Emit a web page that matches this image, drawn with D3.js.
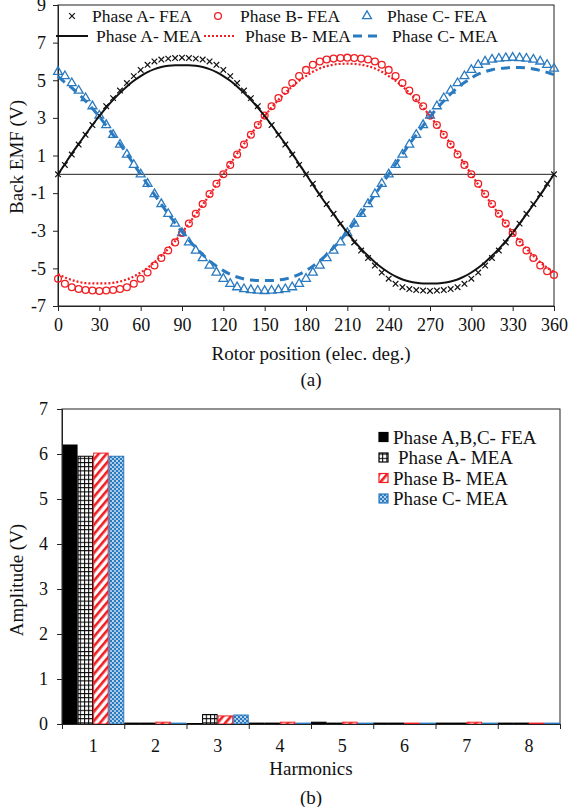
<!DOCTYPE html>
<html>
<head>
<meta charset="utf-8">
<script src="https://cdn.jsdelivr.net/npm/d3@7"></script>
<style>
  body { margin: 0; background: #fff; }
  svg text { font-family: "Liberation Serif", "Times New Roman", serif !important; fill: #111; }
</style>
</head>
<body>
<div id="chart"></div>
<script>
// back EMF waveforms, sampled every 5 electrical degrees
var angles = [0,5,10,15,20,25,30,35,40,45,50,55,60,65,70,75,80,85,90,95,100,105,110,115,120,125,130,135,140,145,150,155,160,165,170,175,180,
  185,190,195,200,205,210,215,220,225,230,235,240,245,250,255,260,265,270,275,280,285,290,295,300,305,310,315,320,325,330,335,340,345,350,355,360];

var feaA = [0,0.5,1.05,1.58,2.1,2.62,3.12,3.62,4.05,4.45,4.85,5.22,5.55,5.82,6.0,6.1,6.15,6.18,6.2,6.18,6.15,6.1,6.0,5.82,5.55,5.22,4.85,4.45,4.05,3.62,3.12,2.62,2.1,1.58,1.05,0.5,0,
  -0.5,-1.05,-1.58,-2.1,-2.62,-3.12,-3.62,-4.05,-4.45,-4.85,-5.22,-5.55,-5.82,-6.0,-6.1,-6.15,-6.18,-6.2,-6.18,-6.15,-6.1,-6.0,-5.82,-5.55,-5.22,-4.85,-4.45,-4.05,-3.62,-3.12,-2.62,-2.1,-1.58,-1.05,-0.5,0];
var feaB = [-5.55,-5.82,-6.0,-6.1,-6.15,-6.18,-6.2,-6.18,-6.15,-6.1,-6.0,-5.82,-5.55,-5.22,-4.85,-4.45,-4.05,-3.62,-3.12,-2.62,-2.1,-1.58,-1.05,-0.5,0,
  0.5,1.05,1.58,2.1,2.62,3.12,3.62,4.05,4.45,4.85,5.22,5.55,5.82,6.0,6.1,6.15,6.18,6.2,6.18,6.15,6.1,6.0,5.82,5.55,5.22,4.85,4.45,4.05,3.62,3.12,2.62,2.1,1.58,1.05,0.5,0,
  -0.5,-1.05,-1.58,-2.1,-2.62,-3.12,-3.62,-4.05,-4.45,-4.85,-5.15,-5.35];
var feaC = [5.45,5.22,4.85,4.45,4.05,3.62,3.12,2.62,2.1,1.58,1.05,0.5,0,-0.5,-1.05,-1.58,-2.1,-2.62,-3.12,-3.62,-4.05,-4.45,-4.85,-5.22,-5.55,-5.82,-6.0,-6.1,-6.15,-6.18,-6.2,-6.18,-6.15,-6.1,-6.0,-5.82,-5.55,-5.22,-4.85,-4.45,-4.05,-3.62,-3.12,-2.62,-2.1,-1.58,-1.05,-0.5,0,
  0.5,1.05,1.58,2.1,2.62,3.12,3.62,4.05,4.45,4.85,5.22,5.55,5.82,6.0,6.1,6.15,6.18,6.2,6.18,6.15,6.1,6.0,5.82,5.62];

var meaA = [0,0.55,1.1,1.62,2.12,2.62,3.1,3.55,3.96,4.33,4.67,4.97,5.22,5.43,5.59,5.7,5.77,5.8,5.8,5.8,5.77,5.7,5.59,5.43,5.22,4.97,4.67,4.33,3.96,3.55,3.1,2.62,2.12,1.62,1.1,0.55,0,
  -0.55,-1.1,-1.62,-2.12,-2.62,-3.1,-3.55,-3.96,-4.33,-4.67,-4.97,-5.22,-5.43,-5.59,-5.7,-5.77,-5.8,-5.8,-5.8,-5.77,-5.7,-5.59,-5.43,-5.22,-4.97,-4.67,-4.33,-3.96,-3.55,-3.1,-2.62,-2.12,-1.62,-1.1,-0.55,0];
var meaB = [-5.3,-5.48,-5.62,-5.72,-5.78,-5.8,-5.8,-5.8,-5.77,-5.7,-5.59,-5.43,-5.22,-4.97,-4.67,-4.33,-3.96,-3.55,-3.1,-2.62,-2.12,-1.62,-1.1,-0.55,0,
  0.55,1.1,1.62,2.12,2.62,3.1,3.55,3.96,4.33,4.67,4.97,5.22,5.45,5.63,5.75,5.83,5.87,5.88,5.87,5.83,5.75,5.63,5.45,5.22,4.97,4.67,4.33,3.96,3.55,3.1,2.62,2.12,1.62,1.1,0.55,0,
  -0.55,-1.1,-1.62,-2.12,-2.62,-3.1,-3.55,-3.96,-4.33,-4.67,-4.97,-5.2];
var meaC = [5.2,4.88,4.6,4.27,3.9,3.5,3.06,2.59,2.1,1.6,1.08,0.54,0,-0.54,-1.08,-1.6,-2.1,-2.59,-3.06,-3.5,-3.9,-4.27,-4.6,-4.88,-5.12,-5.32,-5.46,-5.56,-5.62,-5.65,-5.65,-5.65,-5.62,-5.56,-5.46,-5.32,-5.12,-4.88,-4.6,-4.27,-3.9,-3.5,-3.06,-2.59,-2.1,-1.6,-1.08,-0.54,0,
  0.54,1.08,1.6,2.1,2.59,3.06,3.5,3.9,4.27,4.6,4.88,5.12,5.32,5.46,5.56,5.62,5.65,5.68,5.68,5.65,5.6,5.52,5.42,5.3];

var xTicksA = [0,30,60,90,120,150,180,210,240,270,300,330,360];
var yTicksA = [-7,-5,-3,-1,1,3,5,7,9];

// harmonic spectrum
var harmonics = [1,2,3,4,5,6,7,8];
var ampFEA  = [6.2,0.02,0.01,0.02,0.04,0.02,0.02,0.02];
var ampMEAA = [5.95,0.02,0.21,0.02,0.02,0.02,0.02,0.02];
var ampMEAB = [6.02,0.04,0.18,0.04,0.04,0.02,0.04,0.02];
var ampMEAC = [5.95,0.02,0.2,0.02,0.02,0.02,0.02,0.02];
var yTicksB = [0,1,2,3,4,5,6,7];

var W = 568, H = 807;
var RED = "#f01e23", BLUE = "#2a7ac0";
var FONT = "Liberation Serif, Times New Roman, serif";
var FS = 19;     // titles, bottom legend
var LS = 17.5;   // top legend
var TS = 18;     // tick labels

var svg = d3.select("#chart").append("svg")
    .attr("width", W)
    .attr("height", H)
    .attr("font-family", FONT);

var defs = svg.append("defs");

// grid pattern for Phase A MEA
var pGrid = defs.append("pattern").attr("id", "pGrid")
    .attr("patternUnits", "userSpaceOnUse").attr("width", 4.2).attr("height", 4.2);
pGrid.append("rect").attr("width", 4.2).attr("height", 4.2).attr("fill", "#fff");
pGrid.append("path").attr("d", "M0,0.5H4.2M0.5,0V4.2").attr("stroke", "#000").attr("stroke-width", 1);

// diagonal stripes for Phase B MEA
var pDiag = defs.append("pattern").attr("id", "pDiag")
    .attr("patternUnits", "userSpaceOnUse").attr("width", 6).attr("height", 6)
    .attr("patternTransform", "rotate(40)");
pDiag.append("rect").attr("width", 6).attr("height", 6).attr("fill", "#fff");
pDiag.append("rect").attr("width", 2.6).attr("height", 6).attr("fill", RED);

// dots for Phase C MEA
var pDots = defs.append("pattern").attr("id", "pDots")
    .attr("patternUnits", "userSpaceOnUse").attr("width", 4).attr("height", 4);
pDots.append("rect").attr("width", 4).attr("height", 4).attr("fill", BLUE);
pDots.append("circle").attr("cx", 1).attr("cy", 1).attr("r", 0.9).attr("fill", "#fff");
pDots.append("circle").attr("cx", 3).attr("cy", 3).attr("r", 0.9).attr("fill", "#dcecf8");

function styleAxis(ax) {
    ax.attr("font-family", FONT);
    ax.selectAll("text").attr("font-size", TS).attr("font-family", FONT).attr("fill", "#111");
    ax.selectAll("line, path").attr("stroke", "#222");
}

// ---------------- (a) back EMF ----------------
var xA = d3.scaleLinear().domain([0, 360]).range([58, 554]);
var yA = d3.scaleLinear().domain([-7, 9]).range([306, 5]);

var gA = svg.append("g");

gA.append("rect")
    .attr("x", xA(0)).attr("y", yA(9))
    .attr("width", xA(360) - xA(0)).attr("height", yA(-7) - yA(9))
    .attr("fill", "none").attr("stroke", "#222").attr("stroke-width", 1);

gA.append("line")
    .attr("x1", xA(0)).attr("x2", xA(360))
    .attr("y1", yA(0)).attr("y2", yA(0))
    .attr("stroke", "#222").attr("stroke-width", 1);

var xAxisA = gA.append("g")
    .attr("transform", "translate(0," + yA(-7) + ")")
    .call(d3.axisBottom(xA).tickValues(xTicksA).tickSize(5).tickPadding(7).tickFormat(function (d) { return String(d); }));
var yAxisA = gA.append("g")
    .attr("transform", "translate(" + xA(0) + ",0)")
    .call(d3.axisLeft(yA).tickValues(yTicksA).tickSize(5).tickPadding(7).tickFormat(function (d) { return String(d); }));
styleAxis(xAxisA);
styleAxis(yAxisA);

function wave(vals) {
    return angles.map(function (a, i) { return { a: a, v: vals[i] }; });
}

var line = d3.line()
    .x(function (d) { return xA(d.a); })
    .y(function (d) { return yA(d.v); })
    .curve(d3.curveMonotoneX);

// FEA markers
var crossPath = "M-2.8,-2.8L2.8,2.8M-2.8,2.8L2.8,-2.8";
var triPath = d3.symbol(d3.symbolTriangle, 34)();

gA.append("g").selectAll("path")
    .data(wave(feaA)).enter().append("path")
    .attr("d", crossPath)
    .attr("transform", function (d) { return "translate(" + xA(d.a) + "," + yA(d.v) + ")"; })
    .attr("stroke", "#111").attr("stroke-width", 1.2).attr("fill", "none");

gA.append("g").selectAll("circle")
    .data(wave(feaB)).enter().append("circle")
    .attr("cx", function (d) { return xA(d.a); })
    .attr("cy", function (d) { return yA(d.v); })
    .attr("r", 3.4)
    .attr("stroke", RED).attr("stroke-width", 1.3).attr("fill", "none");

gA.append("g").selectAll("path")
    .data(wave(feaC)).enter().append("path")
    .attr("d", triPath)
    .attr("transform", function (d) { return "translate(" + xA(d.a) + "," + yA(d.v) + ")"; })
    .attr("stroke", BLUE).attr("stroke-width", 1.3).attr("fill", "none");

// MEA lines
gA.append("path").datum(wave(meaA)).attr("d", line)
    .attr("fill", "none").attr("stroke", "#111").attr("stroke-width", 2);
gA.append("path").datum(wave(meaB)).attr("d", line)
    .attr("fill", "none").attr("stroke", RED).attr("stroke-width", 2.2).attr("stroke-dasharray", "2,2");
gA.append("path").datum(wave(meaC)).attr("d", line)
    .attr("fill", "none").attr("stroke", BLUE).attr("stroke-width", 3).attr("stroke-dasharray", "9,6");

// legend (a)
var legA = svg.append("g").attr("font-size", LS);
legA.append("path").attr("d", crossPath).attr("transform", "translate(72,16)")
    .attr("stroke", "#111").attr("stroke-width", 1.2);
legA.append("text").attr("x", 92).attr("y", 22).text("Phase A- FEA");
legA.append("circle").attr("cx", 218).attr("cy", 16).attr("r", 3.4)
    .attr("stroke", RED).attr("stroke-width", 1.3).attr("fill", "none");
legA.append("text").attr("x", 240).attr("y", 22).text("Phase B- FEA");
legA.append("path").attr("d", triPath).attr("transform", "translate(367,16)")
    .attr("stroke", BLUE).attr("stroke-width", 1.3).attr("fill", "none");
legA.append("text").attr("x", 387).attr("y", 22).text("Phase C- FEA");

legA.append("line").attr("x1", 56).attr("x2", 88).attr("y1", 36).attr("y2", 36)
    .attr("stroke", "#111").attr("stroke-width", 2);
legA.append("text").attr("x", 96).attr("y", 42).text("Phase A- MEA");
legA.append("line").attr("x1", 204).attr("x2", 234).attr("y1", 36).attr("y2", 36)
    .attr("stroke", RED).attr("stroke-width", 2.2).attr("stroke-dasharray", "2,2");
legA.append("text").attr("x", 245).attr("y", 42).text("Phase B- MEA");
legA.append("line").attr("x1", 353).attr("x2", 380).attr("y1", 36).attr("y2", 36)
    .attr("stroke", BLUE).attr("stroke-width", 3).attr("stroke-dasharray", "9,6");
legA.append("text").attr("x", 392).attr("y", 42).text("Phase C- MEA");

svg.append("text")
    .attr("transform", "translate(23,157) rotate(-90)")
    .attr("text-anchor", "middle").attr("font-size", FS)
    .text("Back EMF (V)");
svg.append("text")
    .attr("x", 311).attr("y", 360)
    .attr("text-anchor", "middle").attr("font-size", FS)
    .text("Rotor position (elec. deg.)");
svg.append("text")
    .attr("x", 311).attr("y", 386)
    .attr("text-anchor", "middle").attr("font-size", FS)
    .text("(a)");

// ---------------- (b) harmonics ----------------
var xB = d3.scaleBand().domain(harmonics).range([62, 560]).padding(0);
var xEdge = d3.scaleLinear().domain([0.5, 8.5]).range([62, 560]);
var seriesB = ["fea", "a", "b", "c"];
var xSub = d3.scaleBand().domain(seriesB).range([0, xB.bandwidth()]).padding(0);
var yB = d3.scaleLinear().domain([0, 7]).range([724, 409]);

var gB = svg.append("g");

gB.append("rect")
    .attr("x", xEdge(0.5)).attr("y", yB(7))
    .attr("width", xEdge(8.5) - xEdge(0.5)).attr("height", yB(0) - yB(7))
    .attr("fill", "none").attr("stroke", "#222").attr("stroke-width", 1);

var styleB = {
    fea: { fill: "#000", stroke: "#000" },
    a: { fill: "url(#pGrid)", stroke: "#000" },
    b: { fill: "url(#pDiag)", stroke: RED },
    c: { fill: "url(#pDots)", stroke: BLUE }
};
var ampB = { fea: ampFEA, a: ampMEAA, b: ampMEAB, c: ampMEAC };

seriesB.forEach(function (k) {
    gB.append("g").selectAll("rect")
        .data(harmonics).enter().append("rect")
        .attr("x", function (h) { return xB(h) + xSub(k) + 0.5; })
        .attr("y", function (h, i) { return yB(ampB[k][i]); })
        .attr("width", xSub.bandwidth() - 1)
        .attr("height", function (h, i) { return yB(0) - yB(ampB[k][i]); })
        .attr("fill", styleB[k].fill)
        .attr("stroke", styleB[k].stroke)
        .attr("stroke-width", 1);
});

var xAxisB = gB.append("g")
    .attr("transform", "translate(0," + yB(0) + ")")
    .call(d3.axisBottom(xEdge).tickValues([0.5,1.5,2.5,3.5,4.5,5.5,6.5,7.5,8.5]).tickSize(5).tickFormat(""));
var xLabB = gB.append("g")
    .attr("transform", "translate(0," + yB(0) + ")")
    .call(d3.axisBottom(xB).tickSize(0).tickPadding(15));
xLabB.select(".domain").remove();
var yAxisB = gB.append("g")
    .attr("transform", "translate(" + xEdge(0.5) + ",0)")
    .call(d3.axisLeft(yB).tickValues(yTicksB).tickSize(5).tickPadding(9).tickFormat(function (d) { return String(d); }));
styleAxis(xAxisB);
styleAxis(xLabB);
styleAxis(yAxisB);

// legend (b)
var legB = svg.append("g").attr("font-size", FS);
var legItems = [
    { k: "fea", label: "Phase A,B,C- FEA", dx: 0 },
    { k: "a", label: "Phase A- MEA", dx: 5 },
    { k: "b", label: "Phase B- MEA", dx: 0 },
    { k: "c", label: "Phase C- MEA", dx: 0 }
];
legItems.forEach(function (it, i) {
    var cy = 437 + i * 20.5;
    legB.append("rect")
        .attr("x", 379).attr("y", cy - 4.5)
        .attr("width", 9).attr("height", 9)
        .attr("fill", styleB[it.k].fill)
        .attr("stroke", styleB[it.k].stroke).attr("stroke-width", 1.2);
    legB.append("text").attr("x", 393 + it.dx).attr("y", cy + 6.5).text(it.label);
});

svg.append("text")
    .attr("transform", "translate(23,580) rotate(-90)")
    .attr("text-anchor", "middle").attr("font-size", FS)
    .text("Amplitude (V)");
svg.append("text")
    .attr("x", 311).attr("y", 775)
    .attr("text-anchor", "middle").attr("font-size", FS)
    .text("Harmonics");
svg.append("text")
    .attr("x", 311).attr("y", 804)
    .attr("text-anchor", "middle").attr("font-size", FS)
    .text("(b)");
</script>
</body>
</html>
